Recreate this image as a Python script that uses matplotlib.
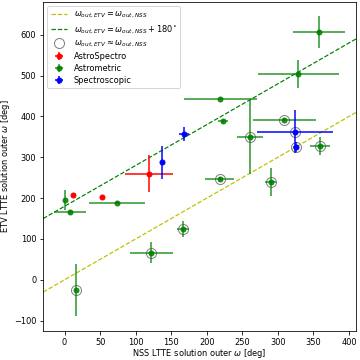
import numpy as np
import matplotlib.pyplot as plt

plt.rcParams['font.size'] = 8.3

# AstroSpectro
as_x = [12, 53, 119]
as_y = [208, 204, 260]
as_xerr = [0, 0, 34]
as_yerr = [0, 0, 46]

# Astrometric
am_x = [0, 7.5, 74, 122, 15.5, 166.6, 218, 289.7, 358, 329, 219, 223, 261, 309, 359]
am_y = [196, 166, 189, 66, -25, 125, 248, 239, 606, 504, 444, 388, 350, 392, 327]
am_xerr = [0, 23, 39, 30, 0, 8, 21, 8, 36, 57, 51, 7, 18, 44, 14]
am_yerr = [25, 6, 3, 26, 63, 20, 5, 34, 39, 35, 0, 3, 91, 4, 22]

# Spectroscopic
sp_x = [137, 168.5, 324, 325]
sp_y = [287.5, 358, 363, 326]
sp_xerr = [0, 7, 53, 3]
sp_yerr = [40, 17, 53, 12]

# omega_ETV ~ omega_NSS
circ_x = [15.5, 122, 166.6, 218, 261, 289.7, 309, 324, 325, 359]
circ_y = [-25, 66, 125, 248, 350, 239, 392, 363, 326, 327]

fig = plt.figure(figsize=(5, 5), dpi=72)
ax = fig.add_axes([0.12, 0.081, 0.869, 0.913])

xl = np.array([-30, 410])
ax.plot(xl, xl, '--', color='y', lw=1.2, label=r'$\omega_{out,ETV} = \omega_{out,NSS}$')
ax.plot(xl, xl + 180, '--', color='g', lw=1.2,
        label=r'$\omega_{out,ETV} = \omega_{out,NSS} + 180^{\circ}$')
ax.plot(circ_x, circ_y, 'o', mfc='none', mec='gray', ms=10, mew=1,
        label=r'$\omega_{out,ETV} \approx \omega_{out,NSS}$')

ax.errorbar(as_x, as_y, xerr=as_xerr, yerr=as_yerr, fmt='o', color='r',
            ms=5, elinewidth=1.5, label='AstroSpectro')
ax.errorbar(am_x, am_y, xerr=am_xerr, yerr=am_yerr, fmt='o', color='g',
            ms=5, elinewidth=1.5, alpha=0.85, label='Astrometric')
ax.errorbar(sp_x, sp_y, xerr=sp_xerr, yerr=sp_yerr, fmt='o', color='b',
            ms=5, elinewidth=1.5, label='Spectroscopic')

ax.set_xlim(-30, 410)
ax.set_ylim(-125, 680)
ax.set_xlabel(r'NSS LTTE solution outer $\omega$ [deg]', labelpad=0)
ax.set_ylabel(r'ETV LTTE solution outer $\omega$ [deg]', labelpad=2)
ax.legend(loc='upper left', labelspacing=0.35)

fig.savefig('out.png', dpi=72)
